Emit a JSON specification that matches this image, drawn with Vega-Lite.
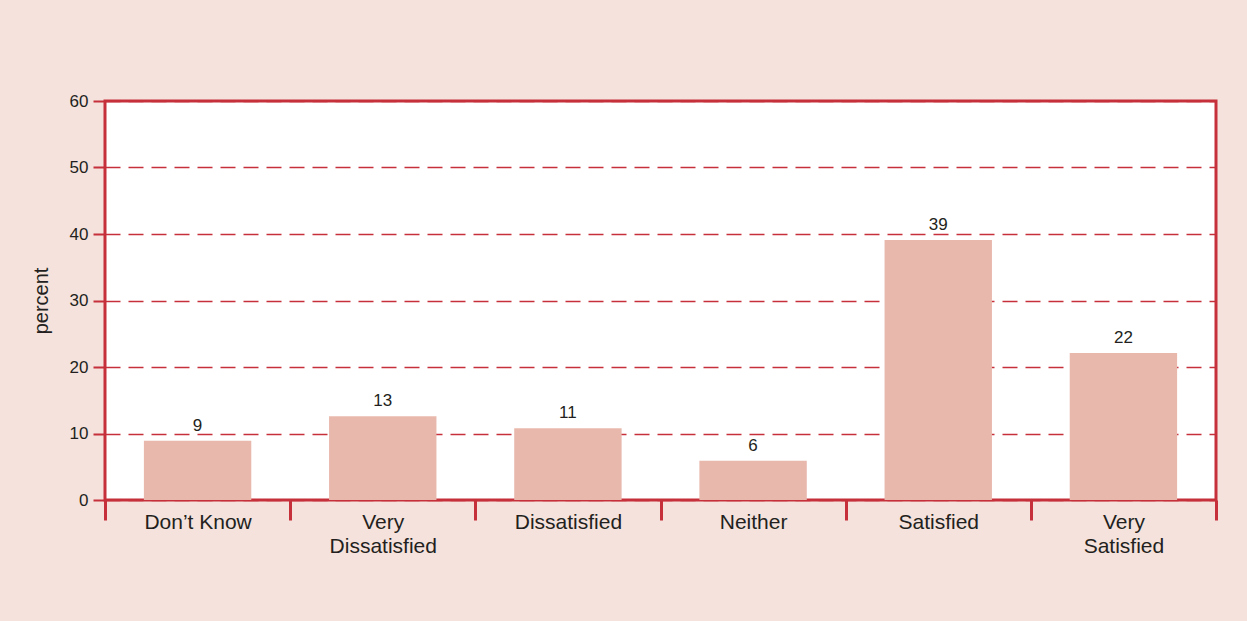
{
  "$schema": "https://vega.github.io/schema/vega-lite/v6.json",
  "autosize": "none",
  "width": 1111,
  "height": 399,
  "padding": {"left": 105, "top": 101, "right": 31, "bottom": 121},
  "background": "#f5e2dc",
  "config": {
    "view": {"stroke": "#c5303a", "strokeWidth": 3, "fill": "white"},
    "font": "Liberation Sans"
  },
  "data": {
    "values": [
      {"category": "Don’t Know", "percent": 8.9},
      {"category": "Very|Dissatisfied", "percent": 12.6},
      {"category": "Dissatisfied", "percent": 10.8},
      {"category": "Neither", "percent": 5.9},
      {"category": "Satisfied", "percent": 39.1},
      {"category": "Very|Satisfied", "percent": 22.1}
    ]
  },
  "encoding": {
    "x": {
      "field": "category",
      "type": "nominal",
      "sort": null,
      "scale": {"paddingInner": 0, "paddingOuter": 0},
      "axis": {
        "title": null,
        "labelAngle": 0,
        "labelExpr": "split(datum.label, '|')",
        "labelFont": "Liberation Sans",
        "labelFontSize": 21,
        "labelColor": "#231f20",
        "labelBaseline": "top",
        "labelPadding": -9,
        "labelLineHeight": 24,
        "tickBand": "extent",
        "tickSize": 20,
        "tickWidth": 3,
        "tickColor": "#c5303a",
        "domain": false,
        "grid": false
      }
    },
    "y": {
      "field": "percent",
      "type": "quantitative",
      "scale": {"domain": [0, 60], "nice": false},
      "axis": {
        "title": "percent",
        "titleFont": "Liberation Sans",
        "titleFontSize": 20,
        "titleFontWeight": "normal",
        "titleColor": "#231f20",
        "titlePadding": 18,
        "values": [0, 10, 20, 30, 40, 50, 60],
        "labelFont": "Liberation Sans",
        "labelFontSize": 17,
        "labelColor": "#231f20",
        "labelPadding": 5,
        "tickSize": 12,
        "tickWidth": 2,
        "tickColor": "#c5303a",
        "domain": false,
        "grid": true,
        "gridColor": "#c5303a",
        "gridWidth": 1.5,
        "gridDash": [15, 8],
        "gridOpacity": 1
      }
    }
  },
  "layer": [
    {"mark": {"type": "bar", "color": "#e8b8ad", "width": {"band": 0.58}}},
    {
      "mark": {"type": "text", "baseline": "bottom", "dy": -6, "fontSize": 17, "color": "#231f20", "font": "Liberation Sans"},
      "encoding": {"text": {"field": "percent", "type": "quantitative", "format": ".0f"}}
    }
  ]
}
